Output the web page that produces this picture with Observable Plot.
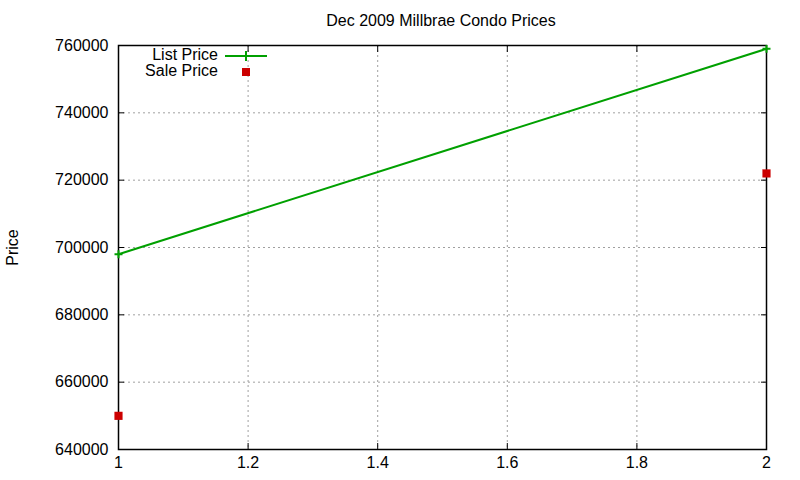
<!DOCTYPE html>
<html>
<head>
<meta charset="utf-8">
<script src="https://cdn.jsdelivr.net/npm/d3@7"></script>
<script src="https://cdn.jsdelivr.net/npm/@observablehq/plot@0.6"></script>
<style>
  html, body { margin: 0; padding: 0; background: #fff; }
  #wrap { position: relative; width: 800px; height: 480px; font-family: "Liberation Sans", Arial, sans-serif; }
  #title { height: 30px; line-height: 30px; padding-top: 6px; box-sizing: border-box; text-align: center; font-size: 16px; color: #000; padding-left: 82px; }
  #legend { position: absolute; left: 0; top: 0; font-size: 16px; }
  .lg { position: absolute; white-space: nowrap; text-align: right; width: 218px; left: 0; line-height: 18px; }
</style>
</head>
<body>
<div id="wrap">
  <div id="title">Dec 2009 Millbrae Condo Prices</div>
  <div id="chart"></div>
  <div id="legend"></div>
</div>
<script>
const xValues = [1, 2];
const listPrice = [698000, 759000];
const salePrice = [650000, 722000];
const xTicks = [1, 1.2, 1.4, 1.6, 1.8, 2];
const yTicks = [640000, 660000, 680000, 700000, 720000, 740000, 760000];
const seriesNames = ["List Price", "Sale Price"];

const listData = xValues.map((x, i) => ({x, y: listPrice[i]}));
const saleData = xValues.map((x, i) => ({x, y: salePrice[i]}));

const thinPlus = {
  draw(context, size) {
    const r = Math.sqrt(size) / 2;
    context.moveTo(-r, 0); context.lineTo(r, 0);
    context.moveTo(0, -r); context.lineTo(0, r);
  }
};

const green = "#00a000";
const red = "#cc0000";
const fmt = d => String(d);

const chart = Plot.plot({
  width: 800,
  height: 450,
  marginLeft: 118,
  marginRight: 34,
  marginTop: 15,
  marginBottom: 31,
  style: {fontFamily: "Liberation Sans, Arial, sans-serif", fontSize: "16px", color: "#000", background: "#fff"},
  x: {domain: [1, 2]},
  y: {domain: [640000, 760000]},
  marks: [
    Plot.gridX(xTicks, {stroke: "#a0a0a0", strokeOpacity: 1, strokeDasharray: "2,3"}),
    Plot.gridY(yTicks, {stroke: "#a0a0a0", strokeOpacity: 1, strokeDasharray: "2,3"}),
    Plot.axisX(xTicks, {anchor: "bottom", tickSize: 0, tickPadding: 7, tickFormat: fmt, label: null, fontSize: 16}),
    Plot.axisX(xTicks, {anchor: "bottom", tickSize: -6, tickFormat: () => "", label: null}),
    Plot.axisX(xTicks, {anchor: "top", tickSize: -6, tickFormat: () => "", label: null}),
    Plot.axisY(yTicks, {anchor: "left", tickSize: 0, tickPadding: 10, tickFormat: fmt, label: "Price", labelAnchor: "center", labelOffset: 112, labelArrow: "none", fontSize: 16}),
    Plot.axisY(yTicks, {anchor: "left", tickSize: -6, tickFormat: () => "", label: null}),
    Plot.axisY(yTicks, {anchor: "right", tickSize: -6, tickFormat: () => "", label: null}),
    Plot.frame({stroke: "#000", strokeWidth: 1.5}),
    Plot.line(listData, {x: "x", y: "y", stroke: green, strokeWidth: 2}),
    Plot.dot(listData, {x: "x", y: "y", symbol: thinPlus, r: 4.5, stroke: green, strokeWidth: 2, fill: "none"}),
    Plot.dot(saleData, {x: "x", y: "y", symbol: "square", r: 4.6, fill: red, stroke: "none"})
  ]
});
document.getElementById("chart").appendChild(chart);

// legend overlay
const legend = document.getElementById("legend");
legend.innerHTML = `
  <div class="lg" style="top:46px">${seriesNames[0]}</div>
  <div class="lg" style="top:62px">${seriesNames[1]}</div>
  <svg width="800" height="100" style="position:absolute;left:0;top:0;overflow:visible">
    <line x1="225" x2="267" y1="56" y2="56" stroke="${green}" stroke-width="2"/>
    <line x1="246" x2="246" y1="51" y2="61" stroke="${green}" stroke-width="2"/>
    <rect x="242" y="68" width="8" height="8" fill="${red}"/>
  </svg>`;
</script>
</body>
</html>
